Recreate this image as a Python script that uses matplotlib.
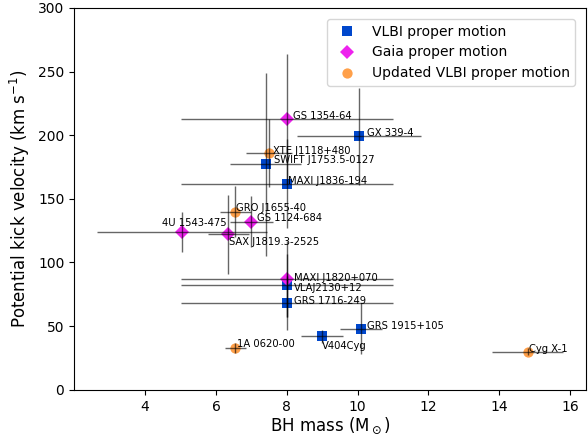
import numpy as np
from matplotlib import pyplot as plt

## VLBI proper motion
vlbi_names = ['GX 339-4', 'SWIFT J1753.5-0127', 'MAXI J1836-194', 'VLAJ2130+12',
              'GRS 1716-249', 'GRS 1915+105', 'V404Cyg']
vlbi_mass = [10.05, 7.4, 8.0, 8.0, 8.0, 10.1, 9.0]
vlbi_mass_err = [1.75, 1.0, 3.0, 3.0, 3.0, 0.6, 0.6]
vlbi_v = [199, 177, 162, 82, 68, 48, 42]
vlbi_v_err = [38, 72, 35, 25, 21, 20, 5]

## Gaia proper motion
gaia_names = ['GS 1354-64', 'GS 1124-684', '4U 1543-475', 'SAX J1819.3-2525', 'MAXI J1820+070']
gaia_mass = [8.0, 7.0, 5.05, 6.35, 8.0]
gaia_mass_err = [3.0, 0.6, 2.4, 0.58, 3.0]
gaia_v = [213, 132, 124, 122, 87]
gaia_v_err = [51, 20, 16, 31, 30]

## Updated VLBI proper motion
upd_names = ['XTE J1118+480', 'GRO J1655-40', '1A 0620-00', 'Cyg X-1']
upd_mass = [7.5, 6.55, 6.55, 14.8]
upd_mass_err = [0.65, 0.45, 0.3, 1.0]
upd_v = [186, 140, 33, 30]
upd_v_err = [27, 20, 4, 3]

# label offsets in pixels (dx, dy)
offsets = {
    'GS 1354-64': (6, 3), 'GX 339-4': (8, 3), 'XTE J1118+480': (4, 2),
    'SWIFT J1753.5-0127': (8, 4), 'MAXI J1836-194': (1, 3), 'GRO J1655-40': (1, 4),
    'GS 1124-684': (6, 4), '4U 1543-475': (-20, 9), 'SAX J1819.3-2525': (1, -8),
    'MAXI J1820+070': (7, 1), 'VLAJ2130+12': (7, -3), 'GRS 1716-249': (7, 2),
    'GRS 1915+105': (6, 3), 'V404Cyg': (0, -10), '1A 0620-00': (2, 4), 'Cyg X-1': (1, 3),
}

fig = plt.figure(figsize=(5.88, 4.36), dpi=100)
ax = fig.add_axes([0.126, 0.106, 0.871, 0.876])

groups = [
    (vlbi_names, vlbi_mass, vlbi_mass_err, vlbi_v, vlbi_v_err, 's', '#0047cc', 'VLBI proper motion', 7.4),
    (gaia_names, gaia_mass, gaia_mass_err, gaia_v, gaia_v_err, 'D', '#ee22ee', 'Gaia proper motion', 7.1),
    (upd_names, upd_mass, upd_mass_err, upd_v, upd_v_err, 'o', '#ffa04a', 'Updated VLBI proper motion', 7.4),
]

for names, m, me, v, ve, mk, col, lab, ms in groups:
    ax.plot(m, v, ls='none', marker=mk, color=col, ms=ms, mew=0, label=lab, zorder=2)
    ax.errorbar(m, v, xerr=me, yerr=ve, fmt='none', ecolor='k', elinewidth=1,
                alpha=0.6, zorder=3)
    for n, x, y in zip(names, m, v):
        dx, dy = offsets[n]
        ax.annotate(n, (x, y), xytext=(dx, dy), textcoords='offset pixels',
                    fontsize=7.2, va='center', ha='left', zorder=4)

ax.set_ylim(0, 300)
ax.set_xticks([4, 6, 8, 10, 12, 14, 16])
ax.tick_params(labelsize=10)
ax.set_xlabel(r'BH mass (M$_\odot$)', fontsize=12, labelpad=1.5)
ax.set_ylabel(r'Potential kick velocity (km s$^{-1}$)', fontsize=12)
ax.legend(loc='upper right', fontsize=10, borderaxespad=0.8)

plt.savefig('out.png')
